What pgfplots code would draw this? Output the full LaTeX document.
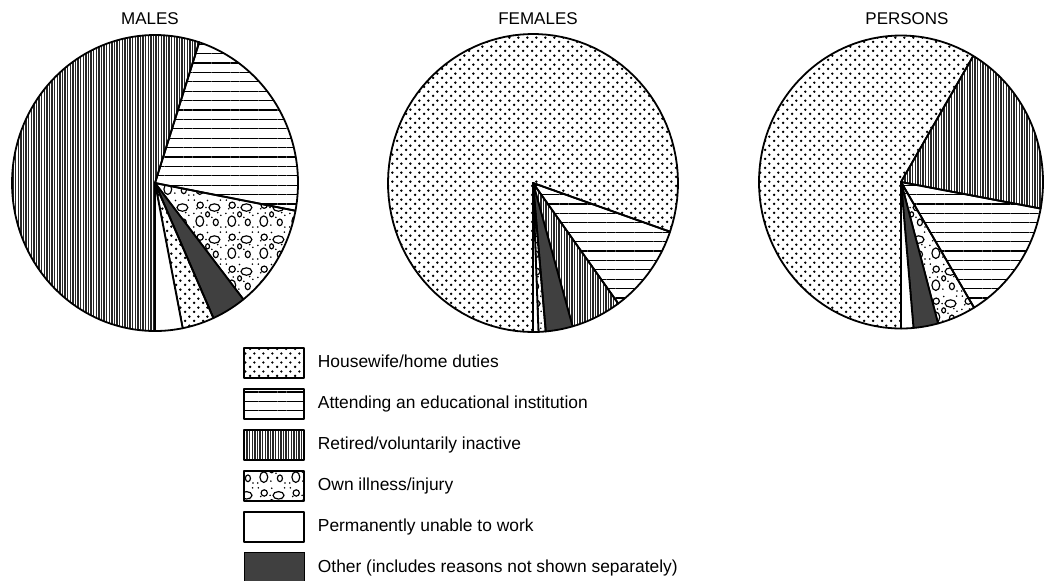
\documentclass[border=0pt]{standalone}
\usepackage{pgfplots}
\pgfplotsset{compat=1.18}
\usepackage{pgfplotstable}
\usetikzlibrary{patterns,patterns.meta}
\usepackage{fontspec}
\setmainfont{Liberation Sans}

% staggered dots (housewife / home duties)
\pgfdeclarepatternformonly{hwdots}{\pgfqpoint{0pt}{0pt}}{\pgfqpoint{4.6pt}{4.6pt}}{\pgfqpoint{4.6pt}{4.6pt}}{%
  \pgfpathcircle{\pgfqpoint{1.15pt}{1.15pt}}{0.7pt}%
  \pgfpathcircle{\pgfqpoint{3.45pt}{3.45pt}}{0.7pt}%
  \pgfusepath{fill}}

% bubbles with small dots (own illness / injury)
\pgfdeclarepatternformonly{bubbles}{\pgfqpoint{0pt}{0pt}}{\pgfqpoint{16pt}{16pt}}{\pgfqpoint{16pt}{16pt}}{%
  \pgfsetlinewidth{0.6pt}%
  \pgfpathellipse{\pgfqpoint{4pt}{4pt}}{\pgfqpoint{2pt}{0pt}}{\pgfqpoint{0pt}{2.7pt}}%
  \pgfpathellipse{\pgfqpoint{11.5pt}{11pt}}{\pgfqpoint{2.8pt}{0pt}}{\pgfqpoint{0pt}{1.9pt}}%
  \pgfpathellipse{\pgfqpoint{12.2pt}{3.4pt}}{\pgfqpoint{1.3pt}{0pt}}{\pgfqpoint{0pt}{1.7pt}}%
  \pgfpathellipse{\pgfqpoint{4.2pt}{12.2pt}}{\pgfqpoint{1.6pt}{0pt}}{\pgfqpoint{0pt}{1.6pt}}%
  \pgfpathellipse{\pgfqpoint{8pt}{7.5pt}}{\pgfqpoint{1pt}{0pt}}{\pgfqpoint{0pt}{1.3pt}}%
  \pgfusepath{stroke}%
  \pgfpathcircle{\pgfqpoint{7.6pt}{2pt}}{0.45pt}%
  \pgfpathcircle{\pgfqpoint{1pt}{8pt}}{0.45pt}%
  \pgfpathcircle{\pgfqpoint{8pt}{14.6pt}}{0.45pt}%
  \pgfpathcircle{\pgfqpoint{14.8pt}{7pt}}{0.45pt}%
  \pgfpathcircle{\pgfqpoint{0.9pt}{1pt}}{0.45pt}%
  \pgfpathcircle{\pgfqpoint{14.6pt}{14.8pt}}{0.45pt}%
  \pgfpathcircle{\pgfqpoint{7.2pt}{11pt}}{0.45pt}%
  \pgfpathcircle{\pgfqpoint{10.2pt}{6pt}}{0.45pt}%
  \pgfpathcircle{\pgfqpoint{1.2pt}{14.8pt}}{0.45pt}%
  \pgfpathcircle{\pgfqpoint{4.8pt}{8.2pt}}{0.45pt}%
  \pgfpathcircle{\pgfqpoint{14.8pt}{1pt}}{0.45pt}%
  \pgfpathcircle{\pgfqpoint{2.4pt}{10.4pt}}{0.45pt}%
  \pgfpathcircle{\pgfqpoint{13.2pt}{8.4pt}}{0.45pt}%
  \pgfusepath{fill}}

\tikzset{
  hw/.style={pattern=hwdots, pattern color=black},
  edu/.style={pattern={Lines[angle=0, distance=4.7pt, line width=0.6pt]}, pattern color=black},
  ret/.style={pattern={Lines[angle=90, distance=1.3pt, line width=0.7pt]}, pattern color=black!85},
  ill/.style={pattern=bubbles, pattern color=black},
  una/.style={fill=white},
  oth/.style={fill=black!75},
  slice/.style={draw=black, line width=0.9pt, line join=round},
}

% percentages, in drawing order (clockwise from the bottom)
\pgfplotstableread{
cat pct
ret 55.0
edu 23.0
ill 11.4
oth 3.9
hw  3.6
una 3.1
}\males
\pgfplotstableread{
cat pct
hw  80.3
edu 9.7
ret 5.6
oth 3.0
ill 0.8
una 0.6
}\females
\pgfplotstableread{
cat pct
hw  58.5
ret 19.4
edu 13.5
ill 4.4
oth 2.8
una 1.4
}\persons

% #1 table, #2 cx, #3 cy, #4 rx, #5 ry  (pixel units, y downward)
\newcommand\drawpie[5]{%
  \pgfmathsetmacro\cur{270}%
  \pgfplotsforeachungrouped \ii in {0,...,5}{%
    \pgfplotstablegetelem{\ii}{pct}\of#1\let\ppct\pgfplotsretval
    \pgfplotstablegetelem{\ii}{cat}\of#1\let\pcat\pgfplotsretval
    \pgfmathsetmacro\nxt{\cur-3.6*\ppct}%
    \edef\cmd{\noexpand\addplot[\pcat, slice, domain=\nxt:\cur, samples=90, variable=\noexpand\t]
      ({#2+#4*cos(\noexpand\t)},{#3-#5*sin(\noexpand\t)}) -- (axis cs:#2,#3) -- cycle;}%
    \cmd
    \let\cur\nxt
  }%
}

\begin{document}
\begin{tikzpicture}
\begin{axis}[
  name=main,
  x=0.5pt, y=0.5pt,
  xmin=0, xmax=1044, ymin=0, ymax=580,
  y dir=reverse,
  hide axis, clip=false,
  legend image code/.code={\draw[#1] (0pt,-7.5pt) rectangle (30pt,7.5pt);},
  legend cell align=left,
  legend style={at={(axis cs:242.5,346.5)}, anchor=north west, draw=none, fill=none,
    inner sep=0pt, row sep=4.5pt, column sep=6.5pt,
    font=\fontsize{8.7}{10}\selectfont,
    nodes={inner sep=0pt}},
]
\addlegendimage{hw, slice, line width=1pt}
\addlegendimage{edu, slice, line width=1pt}
\addlegendimage{ret, slice, line width=1pt}
\addlegendimage{ill, slice, line width=1pt}
\addlegendimage{una, slice, line width=1pt}
\addlegendimage{oth, draw=none}
\legend{Housewife/home duties, Attending an educational institution, Retired/voluntarily inactive, Own illness/injury, Permanently unable to work, Other (includes reasons not shown separately)}

\drawpie{\males}{155}{183}{143}{148}
\drawpie{\females}{533}{183}{145}{149}
\drawpie{\persons}{901}{182}{142}{146.5}

\node[font=\fontsize{8.5}{10}\selectfont] at (axis cs:150,19) {MALES};
\node[font=\fontsize{8.5}{10}\selectfont] at (axis cs:538,19) {FEMALES};
\node[font=\fontsize{8.5}{10}\selectfont] at (axis cs:907,19) {PERSONS};
\end{axis}
\pgfresetboundingbox
\useasboundingbox (main.south west) rectangle (main.north east);
\end{tikzpicture}
\end{document}
